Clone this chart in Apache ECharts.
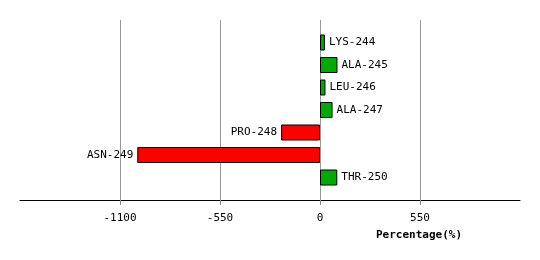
<!DOCTYPE html>
<html>
<head>
<meta charset="utf-8">
<script src="https://cdn.jsdelivr.net/npm/echarts@6/dist/echarts.min.js"></script>
<style>html,body{margin:0;padding:0;background:#fff}#c{width:540px;height:260px}</style>
</head>
<body>
<div id="c"></div>
<script>
var categories = ['LYS-244','ALA-245','LEU-246','ALA-247','PRO-248','ASN-249','THR-250'];
var values = [27, 96, 30, 69, -214, -1005, 95];
var tickValues = [-1100, -550, 0, 550];
var axisName = 'Percentage(%)';

var yCats = [''].concat(categories).concat(['']);
var seriesData = [null].concat(values.map(function (v, i) {
  return {
    value: v,
    name: categories[i],
    itemStyle: { color: v >= 0 ? '#00aa00' : '#ff0000' },
    label: { position: v >= 0 ? 'right' : 'left' }
  };
})).concat([null]);

var chart = echarts.init(document.getElementById('c'), null, { renderer: 'canvas' });
chart.setOption({
  animation: false,
  backgroundColor: '#ffffff',
  title: {
    text: axisName,
    left: 376,
    top: 230,
    padding: 0,
    textStyle: { fontFamily: 'DejaVu Sans Mono', fontSize: 11, fontWeight: 'bold', color: '#000' }
  },
  grid: { left: 20, right: 20, top: 20, bottom: 60, containLabel: false },
  xAxis: {
    type: 'value',
    min: -1650,
    max: 1100,
    interval: 550,
    axisLine: { show: true, onZero: false, lineStyle: { color: '#000', width: 1 } },
    axisTick: { show: true, inside: false, length: 5, customValues: tickValues, lineStyle: { color: '#888', width: 1 } },
    axisLabel: {
      customValues: tickValues,
      margin: 13,
      formatter: function (v) { return String(v); },
      fontFamily: 'DejaVu Sans Mono', fontSize: 11, color: '#000'
    },
    splitLine: { show: true, lineStyle: { color: '#999', width: 1 } }
  },
  yAxis: {
    type: 'category',
    inverse: true,
    boundaryGap: false,
    data: yCats,
    axisLine: { show: false },
    axisTick: { show: false },
    axisLabel: { show: false },
    splitLine: { show: false }
  },
  series: [{
    type: 'bar',
    barWidth: 16,
    data: seriesData,
    itemStyle: { borderColor: '#000', borderWidth: 1 },
    label: {
      show: true,
      distance: 4,
      formatter: function (p) { return p.name; },
      fontFamily: 'DejaVu Sans Mono', fontSize: 11, color: '#000'
    }
  }]
});
</script>
</body>
</html>
